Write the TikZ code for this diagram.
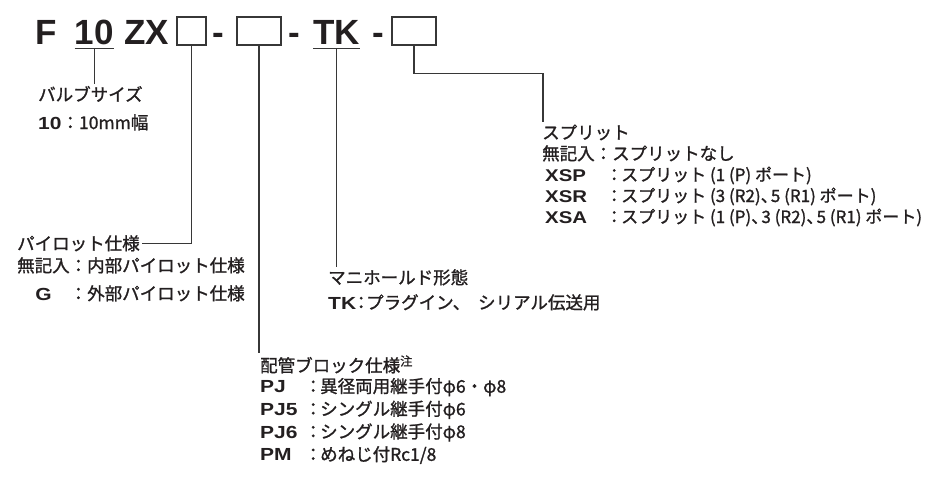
\documentclass[tikz,border=0pt]{standalone}
\usepackage{fontspec}
\setmainfont{Noto Sans CJK JP}[FakeBold=1.2]
\newfontfamily\headfont{Liberation Sans}
\newfontfamily\labfont{Liberation Sans}[FakeStretch=1.2]
\usetikzlibrary{positioning, calc}
\definecolor{SpecInk}{RGB}{35, 31, 32}
\definecolor{SpecLine}{RGB}{55, 55, 55}
\newcommand{\speclab}[1]{{\labfont\bfseries #1}}
\newcommand{\speclabbox}[2]{\makebox[#1][l]{\speclab{#2}}}
\newcommand{\speccol}[1]{\makebox[#1][c]{：}}
\newcommand{\tou}{\makebox[0.6em][l]{、}}

\begin{document}
\begin{tikzpicture}[
  x=1pt, y=-1pt,
  every node/.style={text=SpecInk},
  jp/.style={font=\fontsize{17.5}{21}\selectfont, anchor=base west, inner sep=2pt},
  code/.style={font=\headfont\bfseries\fontsize{35}{35}\selectfont,
               anchor=base west, inner sep=0pt},
  slot/.style={draw=SpecLine, line width=1.6pt, minimum height=28pt, inner sep=0pt},
  lead/.style={draw=SpecLine, line width=1.1pt}
]
  \useasboundingbox (0,0) rectangle (929,477);

  %% Model code
  \node[code]                    (series)    at (35,44)    {F};
  \node[code, inner ysep=4pt]    (size)      at (74.5,44)  {10};
  \node[code]                    (body)      at (124,44)   {ZX};
  \node[slot, minimum width=29pt] (pilotbox) at (191.5,31) {};
  \node[code]                    (dasha)     at (212,44)   {-};
  \node[slot, minimum width=44pt] (pipebox)  at (259,31)   {};
  \node[code]                    (dashb)     at (288,44)   {-};
  \node[code, inner ysep=4pt]    (tk)        at (313,44)   {TK};
  \node[code]                    (dashc)     at (372,44)   {-};
  \node[slot, minimum width=44pt] (splitbox) at (414,31)   {};

  %% Valve size
  \node[jp] (valvetitle) at (36,101) {バルブサイズ};
  \node[jp] (valveten)   at (36,129) {\speclab{10}：10mm幅};

  %% Pilot
  \node[jp] (pilottitle) at (15,250) {パイロット仕様};
  \node[jp] (pilotint)   at (15,272) {無記入：内部パイロット仕様};
  \node[jp] (pilotext)   at (15,300) {\makebox[3em][c]{\speclab{G}}：外部パイロット仕様};

  %% Manifold
  \node[jp] (manititle) at (326,284) {マニホールド形態};
  \node[jp] (manitk)    at (326,309) {\speclab{TK}\speccol{10pt}プラグイン、\hspace{8pt}シリアル伝送用};

  %% Piping block
  \node[jp] (pipetitle) at (258,372) {配管ブロック仕様\textsuperscript{注}};
  \foreach \pcode/\ptext [count=\i] in {PJ/{異径両用継手付φ6・φ8}, PJ5/{シングル継手付φ6},
                                       PJ6/{シングル継手付φ8}, PM/{めねじ付Rc1/8}}
    \node[jp] (pipe\i) at (258,{370+22.7*\i}) {\speclabbox{46pt}{\pcode}\speccol{14pt}\ptext};

  %% Split
  \node[jp] (splittitle) at (540,139) {スプリット};
  \node[jp] (splitnone)  at (540,160) {無記入：スプリットなし};
  \foreach \pcode/\ptext [count=\i] in {XSP/{スプリット (1 (P) ポート)},
                                       XSR/{スプリット (3 (R2)\tou 5 (R1) ポート)},
                                       XSA/{スプリット (1 (P)\tou 3 (R2)\tou 5 (R1) ポート)}}
    \node[jp, font=\fontsize{17}{21}\selectfont] (split\i) at (543,{160+21*\i})
      {\speclabbox{62pt}{\pcode}\speccol{14pt}\ptext};

  %% Leaders
  \draw[lead] (size.south west) -- (size.south east);
  \draw[lead] (size.south) -- (size.south |- valvetitle.north);
  \draw[lead] (pilotbox.south) |- (pilottitle.east);
  \draw[lead] (pipebox.south) -- (pipebox.south |- pipetitle.north);
  \draw[lead] (tk.south west) -- (tk.south east);
  \draw[lead] (tk.south) -- (tk.south |- manititle.north);
  \draw[lead] (splitbox.south) -- ++(0,28) -| ([xshift=3pt]splittitle.north west);
\end{tikzpicture}
\end{document}
